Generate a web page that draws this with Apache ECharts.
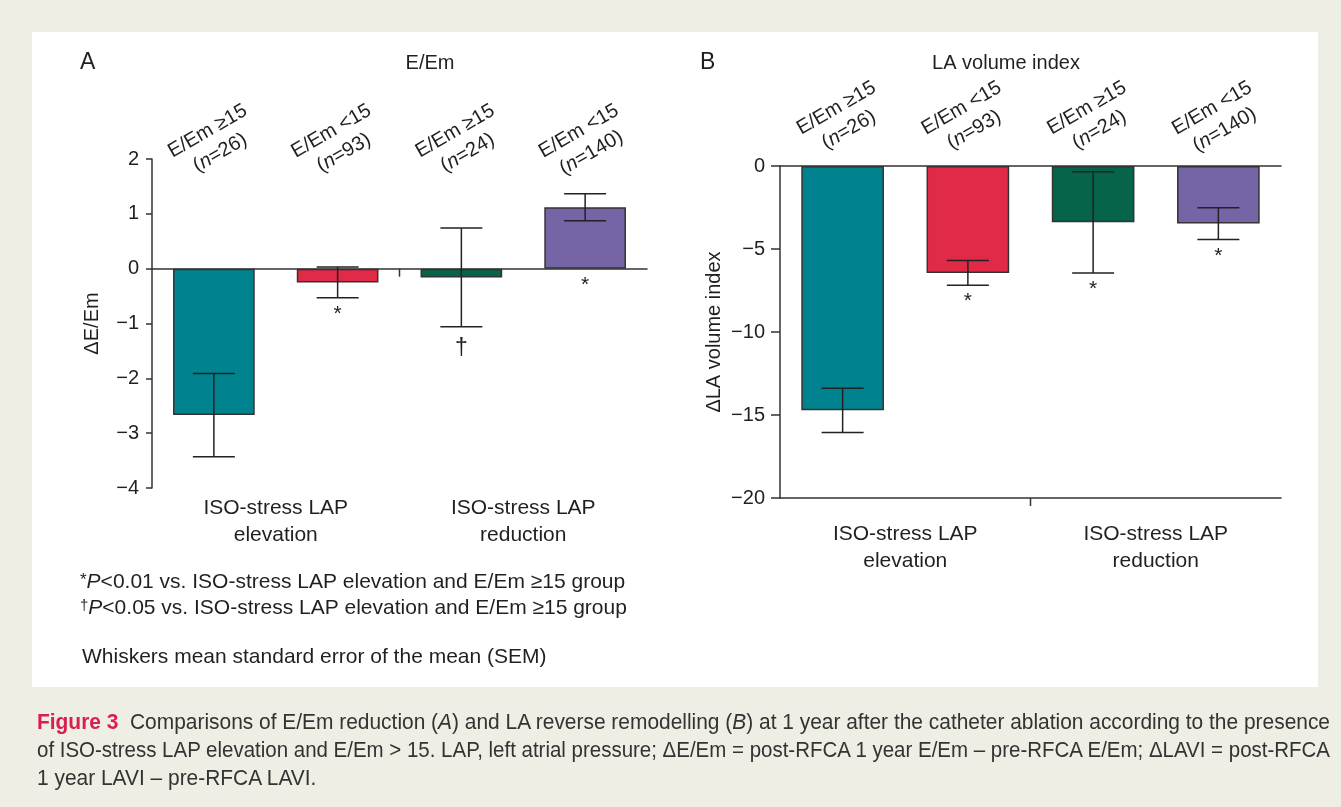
<!DOCTYPE html>
<html><head><meta charset="utf-8">
<script src="https://cdn.jsdelivr.net/npm/echarts@6/dist/echarts.min.js"></script>
<style>
html,body{margin:0;padding:0;width:1341px;height:807px;overflow:hidden;background:#eeeee4;}
#panel{position:absolute;left:32px;top:32px;width:1286px;height:655px;background:#fff;}
#chart{position:absolute;left:0;top:0;width:1341px;height:807px;}
#caption{position:absolute;left:37px;top:708px;font-family:"Liberation Sans Narrow","Liberation Sans",sans-serif;font-size:22px;line-height:28px;color:#333;}
.ln{white-space:nowrap;display:block;transform-origin:0 0;width:max-content;}
.fig{color:#d6204e;font-weight:bold;}
</style></head>
<body>
<div id="panel"></div>
<div id="chart"></div>
<div id="caption">
<span class="ln" id="l1"><span class="fig">Figure 3</span>&nbsp; Comparisons of E/Em reduction (<i>A</i>) and LA reverse remodelling (<i>B</i>) at 1 year after the catheter ablation according to the presence</span>
<span class="ln" id="l2">of ISO-stress LAP elevation and E/Em &gt; 15. LAP, left atrial pressure; ΔE/Em = post-RFCA 1 year E/Em – pre-RFCA E/Em; ΔLAVI = post-RFCA</span>
<span class="ln" id="l3">1 year LAVI – pre-RFCA LAVI.</span>
</div>
<script>
// ---- data ----
const categories = ['E/Em ≥15', 'E/Em <15', 'E/Em ≥15', 'E/Em <15'];
const groupSizes = [26, 93, 24, 140];
const groupLabels = ['ISO-stress LAP\nelevation', 'ISO-stress LAP\nreduction'];
const eemMean = [-2.67, -0.25, -0.16, 1.12];
const eemSem = [0.76, 0.28, 0.90, 0.245];
const eemMarks = ['', '*', '†', '*'];
const laviMean = [-14.72, -6.44, -3.39, -3.47];
const laviSem = [1.33, 0.74, 3.05, 0.96];
const laviMarks = ['', '*', '*', '*'];
const eemTicks = [-4, -3, -2, -1, 0, 1, 2];
const laviTicks = [-20, -15, -10, -5, 0];
const barColors = ['#00838f', '#e02a47', '#05644a', '#7665a6'];

// ---- styling ----
const FONT = '"Liberation Sans", Arial, sans-serif';
const TXT = '#231f20';
const LINE = '#333333';

const chart = echarts.init(document.getElementById('chart'), null, {renderer: 'canvas'});

function topLabel(margin) {
  return {
    interval: 0, rotate: -30, align: 'center', verticalAlign: 'middle', margin: margin,
    formatter: (v, i) => '{t|' + v + '}\n{t|(}{i|n}{t|=' + groupSizes[i] + ')}',
    rich: {
      t: {fontSize: 20, fontFamily: FONT, fontStyle: 'normal', color: TXT, lineHeight: 25},
      i: {fontSize: 20, fontFamily: FONT, color: TXT, fontStyle: 'italic', lineHeight: 25}
    }
  };
}
const minus = v => String(v).replace('-', '−');

function errSeries(mean, sem, xi, yi) {
  return {
    type: 'custom', xAxisIndex: xi, yAxisIndex: yi, z: 5,
    data: mean.map((m, i) => [i, m, sem[i]]),
    renderItem: (params, api) => {
      const i = api.value(0), m = api.value(1), s = api.value(2);
      const a = api.coord([i, m + s]), b = api.coord([i, m - s]);
      const h = 21;
      const st = {stroke: '#222', lineWidth: 1.5};
      return {type: 'group', children: [
        {type: 'line', shape: {x1: a[0], y1: a[1], x2: b[0], y2: b[1]}, style: st},
        {type: 'line', shape: {x1: a[0] - h, y1: a[1], x2: a[0] + h, y2: a[1]}, style: st},
        {type: 'line', shape: {x1: b[0] - h, y1: b[1], x2: b[0] + h, y2: b[1]}, style: st}
      ]};
    }
  };
}
function markSeries(mean, sem, marks, xi, yi) {
  return {
    type: 'custom', xAxisIndex: xi, yAxisIndex: yi, z: 6,
    data: mean.map((m, i) => [i, m, sem[i]]),
    renderItem: (params, api) => {
      const i = api.value(0);
      const low = Math.min(api.value(1) - api.value(2), 0);
      const p = api.coord([i, low]);
      const dagger = marks[i] === '†';
      return {type: 'text', x: p[0], y: p[1] + (dagger ? 10 : 6),
        style: {text: marks[i], fontSize: dagger ? 23 : 21, fontFamily: FONT, fill: '#222', align: 'center', verticalAlign: 'top'}};
    }
  };
}
// small tick separating the two ISO-stress groups (midway between category 1 and 2)
function dividerSeries(xi, yi, yVal) {
  return {
    type: 'custom', xAxisIndex: xi, yAxisIndex: yi, z: 4,
    data: [[1, yVal, 2]],
    renderItem: (params, api) => {
      const a = api.coord([api.value(0), api.value(1)]);
      const b = api.coord([api.value(2), api.value(1)]);
      const x = (a[0] + b[0]) / 2;
      return {type: 'line', shape: {x1: x, y1: a[1], x2: x, y2: a[1] + 8}, style: {stroke: LINE, lineWidth: 1.5}};
    }
  };
}
function barSeries(mean, xi, yi) {
  return {
    type: 'bar', xAxisIndex: xi, yAxisIndex: yi, barWidth: '66%', z: 3,
    data: mean.map((v, i) => ({value: v, itemStyle: {color: barColors[i]}})),
    itemStyle: {borderColor: '#333', borderWidth: 1.5}
  };
}
const axisLineStyle = {color: LINE, width: 1.5};
const groupLabelStyle = (m) => ({interval: 0, margin: m, fontSize: 21, lineHeight: 27, color: TXT, fontFamily: FONT});

const option = {
  animation: false,
  backgroundColor: 'transparent',
  textStyle: {fontFamily: FONT, color: TXT},
  grid: [
    {left: 152, top: 159, width: 495, height: 329},
    {left: 780, top: 166, width: 501, height: 332}
  ],
  xAxis: [
    // A: zero line
    {gridIndex: 0, type: 'category', data: categories, position: 'bottom',
      axisLine: {onZero: true, lineStyle: axisLineStyle},
      axisTick: {show: false}, axisLabel: {show: false}},
    // A: top rotated labels
    {gridIndex: 0, type: 'category', data: categories, position: 'top',
      axisLine: {show: false, onZero: false}, axisTick: {show: false},
      axisLabel: topLabel(17)},
    // A: group labels
    {gridIndex: 0, type: 'category', data: groupLabels, position: 'bottom',
      axisLine: {show: false, onZero: false}, axisTick: {show: false},
      axisLabel: groupLabelStyle(7)},
    // B: top axis (zero line) with rotated labels
    {gridIndex: 1, type: 'category', data: categories, position: 'top',
      axisLine: {show: true, onZero: false, lineStyle: axisLineStyle}, axisTick: {show: false},
      axisLabel: topLabel(47)},
    // B: bottom line with group labels
    {gridIndex: 1, type: 'category', data: groupLabels, position: 'bottom',
      axisLine: {show: true, onZero: false, lineStyle: axisLineStyle},
      axisTick: {show: false},
      axisLabel: groupLabelStyle(23)}
  ],
  yAxis: [
    {gridIndex: 0, type: 'value', min: eemTicks[0], max: eemTicks[eemTicks.length - 1], interval: 1,
      axisLine: {show: true, lineStyle: axisLineStyle},
      axisTick: {show: true, length: 6, lineStyle: axisLineStyle},
      axisLabel: {margin: 13, fontSize: 20, color: TXT, fontFamily: FONT, formatter: minus},
      splitLine: {show: false},
      name: 'ΔE/Em', nameLocation: 'middle', nameGap: 50,
      nameTextStyle: {fontSize: 20, color: TXT, fontFamily: FONT}},
    {gridIndex: 1, type: 'value', min: laviTicks[0], max: laviTicks[laviTicks.length - 1], interval: 5,
      axisLine: {show: true, lineStyle: axisLineStyle},
      axisTick: {show: true, length: 9, lineStyle: axisLineStyle},
      axisLabel: {margin: 15, fontSize: 20, color: TXT, fontFamily: FONT, formatter: minus},
      splitLine: {show: false},
      name: 'ΔLA volume index', nameLocation: 'middle', nameGap: 56,
      nameTextStyle: {fontSize: 20, color: TXT, fontFamily: FONT}}
  ],
  series: [
    barSeries(eemMean, 0, 0),
    errSeries(eemMean, eemSem, 0, 0),
    markSeries(eemMean, eemSem, eemMarks, 0, 0),
    dividerSeries(0, 0, 0),
    barSeries(laviMean, 3, 1),
    errSeries(laviMean, laviSem, 3, 1),
    markSeries(laviMean, laviSem, laviMarks, 3, 1),
    dividerSeries(3, 1, laviTicks[0])
  ],
  graphic: [
    {type: 'text', x: 80, y: 51, style: {text: 'A', fontSize: 23, fontFamily: FONT, fill: TXT}},
    {type: 'text', x: 430, y: 53, style: {text: 'E/Em', fontSize: 20, fontFamily: FONT, fill: TXT, align: 'center'}},
    {type: 'text', x: 700, y: 51, style: {text: 'B', fontSize: 23, fontFamily: FONT, fill: TXT}},
    {type: 'text', x: 1006, y: 53, style: {text: 'LA volume index', fontSize: 20, fontFamily: FONT, fill: TXT, align: 'center'}},
    {type: 'text', x: 80, y: 572, style: {
      text: '{s|*}{i|P}{n|<0.01 vs. ISO-stress LAP elevation and E/Em ≥15 group}',
      rich: {s: {fontSize: 17, fontFamily: FONT, fill: TXT, verticalAlign: 'top'},
             i: {fontSize: 21, fontFamily: FONT, fill: TXT, fontStyle: 'italic'},
             n: {fontSize: 21, fontFamily: FONT, fill: TXT}}}},
    {type: 'text', x: 80, y: 598, style: {
      text: '{s|†}{i|P}{n|<0.05 vs. ISO-stress LAP elevation and E/Em ≥15 group}',
      rich: {s: {fontSize: 15, fontFamily: FONT, fill: TXT, verticalAlign: 'top'},
             i: {fontSize: 21, fontFamily: FONT, fill: TXT, fontStyle: 'italic'},
             n: {fontSize: 21, fontFamily: FONT, fill: TXT}}}},
    {type: 'text', x: 82, y: 647, style: {text: 'Whiskers mean standard error of the mean (SEM)', fontSize: 21, fontFamily: FONT, fill: TXT}}
  ]
};
chart.setOption(option);

// fit caption lines to the reference line width
(function () {
  const target = 1293;
  const l1 = document.getElementById('l1'), l2 = document.getElementById('l2'), l3 = document.getElementById('l3');
  const s1 = target / l1.getBoundingClientRect().width;
  const s2 = target / l2.getBoundingClientRect().width;
  l1.style.transform = 'scaleX(' + s1 + ')';
  l2.style.transform = 'scaleX(' + s2 + ')';
  l3.style.transform = 'scaleX(' + s1 + ')';
})();
</script>
</body></html>
